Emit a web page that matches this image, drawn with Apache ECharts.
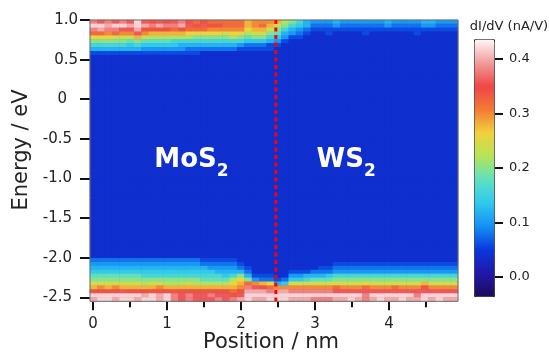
<!DOCTYPE html>
<html><head><meta charset="utf-8">
<script src="https://cdn.jsdelivr.net/npm/echarts@6/dist/echarts.min.js"></script>
<style>html,body{margin:0;padding:0;background:#fff}#c{width:549px;height:355px}</style>
</head><body><div id="c"></div>
<script>
// ---- data ----
const positionRange = [-0.04, 4.93];   // nm, plot extent
const energyRange = [-2.55, 1.0];      // eV, plot extent
// intensity level code: value = levelBase + levelStep * index
const levelCodes = '0123456789abcdefghijklm';
const levelBase = -0.02;
const levelStep = 0.02;
// dI/dV map, one string per energy row (top = 1.0 eV ... bottom = -2.55 eV), one char per position column (50)
const didvRows = [
// top: conduction band region (rows 70..62)
"kjkjkjmjij"+"ijkihihhhh"+"hfgggfcb97"+"6667666666"+"7666677666",
"mmlmmlmlkl"+"kkljijiihh"+"hfghfdb987"+"5556555555"+"6555566555",
"klkkjjliii"+"ihihhhgggg"+"geffdb9765"+"4444444444"+"4444444444",
"hhghggjgff"+"fffeeeeede"+"ecddba7654"+"3343333433"+"3333433333",
"eeedddfdcc"+"ccccbbbbbc"+"babb986443"+"3333333333"+"3333333333",
"bbbbbabaaa"+"a999999999"+"9888764333"+"3333333333"+"3333333333",
"9999989888"+"8877777777"+"6555443333"+"3333333333"+"3333333333",
"7777777666"+"6665555555"+"4444433333"+"3333333333"+"3333333333",
"4444444444"+"4444433333"+"3333333333"+"3333333333"+"3333333333",
// gap region (rows 61..11)
"33333333333333333333333333333333333333333333333333",
"33333333333333333333333333333333333333333333333333",
"33333333333333333333333333333333333333333333333333",
"33333333333333333333333333333333333333333333333333",
"33333333333333333333333333333333333333333333333333",
"33333333333333333333333333333333333333333333333333",
"33333333333333333333333333333333333333333333333333",
"33333333333333333333333333333333333333333333333333",
"33333333333333333333333333333333333333333333333333",
"33333333333333333333333333333333333333333333333333",
"33333333333333333333333333333333333333333333333333",
"33333333333333333333333333333333333333333333333333",
"33333333333333333333333333333333333333333333333333",
"33333333333333333333333333333333333333333333333333",
"33333333333333333333333333333333333333333333333333",
"33333333333333333333333333333333333333333333333333",
"33333333333333333333333333333333333333333333333333",
"33333333333333333333333333333333333333333333333333",
"33333333333333333333333333333333333333333333333333",
"33333333333333333333333333333333333333333333333333",
"33333333333333333333333333333333333333333333333333",
"33333333333333333333333333333333333333333333333333",
"33333333333333333333333333333333333333333333333333",
"33333333333333333333333333333333333333333333333333",
"33333333333333333333333333333333333333333333333333",
"33333333333333333333333333333333333333333333333333",
"33333333333333333333333333333333333333333333333333",
"33333333333333333333333333333333333333333333333333",
"33333333333333333333333333333333333333333333333333",
"33333333333333333333333333333333333333333333333333",
"33333333333333333333333333333333333333333333333333",
"33333333333333333333333333333333333333333333333333",
"33333333333333333333333333333333333333333333333333",
"33333333333333333333333333333333333333333333333333",
"33333333333333333333333333333333333333333333333333",
"33333333333333333333333333333333333333333333333333",
"33333333333333333333333333333333333333333333333333",
"33333333333333333333333333333333333333333333333333",
"33333333333333333333333333333333333333333333333333",
"33333333333333333333333333333333333333333333333333",
"33333333333333333333333333333333333333333333333333",
"33333333333333333333333333333333333333333333333333",
"33333333333333333333333333333333333333333333333333",
"33333333333333333333333333333333333333333333333333",
"33333333333333333333333333333333333333333333333333",
"33333333333333333333333333333333333333333333333333",
"33333333333333333333333333333333333333333333333333",
"33333333333333333333333333333333333333333333333333",
"33333333333333333333333333333333333333333333333333",
"33333333333333333333333333333333333333333333333333",
"33333333333333333333333333333333333333333333333333",
"33333333333333333333333333333333333333333333333333",
// bottom: valence band region (rows 10..0)
"5555555555"+"5555544444"+"3333333333"+"3333333333"+"3333333333",
"6666666666"+"6666655555"+"4333333333"+"3334444444"+"4444444444",
"7777777777"+"7777776666"+"5433333333"+"3445555555"+"5555555555",
"8888888888"+"8888888777"+"7533333444"+"5556666666"+"6666666666",
"aaaaaaa999"+"9999999989"+"b744433667"+"7789999999"+"9999999999",
"bbbbbbbbbb"+"bbbbbaaaac"+"eb65545889"+"aaabbbbbbb"+"bbbbbbbbbb",
"dddddddcdd"+"cccdccccce"+"fhgfe78ddd"+"dddddddedd"+"dddddfdddd",
"fgfgfffffg"+"ffffffffff"+"gkjihggggg"+"ggghggghgg"+"ghgggigggg",
"iiiijiiiii"+"iiiiiiiiih"+"illlkllkkk"+"kkkjjjjjjj"+"jjjjjjjjjj",
"mmmmmmmlml"+"mkjkjjkjji"+"jmmmmmmmmm"+"mmmmmmmkmm"+"mmmmkmmmmm",
"lmmlmmlmml"+"mkjkjjjkjk"+"lmllmmmlll"+"kkkllmlklm"+"llmllmlmll"
];
const xTicks = [0, 1, 2, 3, 4];
const xMinorTicks = [0.5, 1.5, 2.5, 3.5, 4.5];
const yTicks = [-2.5, -2.0, -1.5, -1.0, -0.5, 0, 0.5, 1.0];
const colorbarRange = [-0.035, 0.436];
const colorbarTicks = [0, 0.1, 0.2, 0.3, 0.4];
const dividerX = 2.47;
const labelNames = ['MoS', 'WS'];
const labelSubs = ['2', '2'];
const labelX = [1.33, 3.42];
const labelY = [-0.77, -0.77];

// ---- styles ----
const colorStops = ['#1c0a5e','#2018a8','#0a36dc','#1590f5','#2fc8ee','#5ee0c0',
                    '#b4e45a','#f2d23c','#f47a36','#ee4646','#f29a9a','#fff6f6'];
const FONT = 'DejaVu Sans';
const plotBg = '#0e32d2';

const nRows = didvRows.length;
const nCols = didvRows[0].length;
const heatData = [];
didvRows.forEach((row, ri) => {
  for (let c = 0; c < nCols; c++) {
    heatData.push([c, nRows - 1 - ri, levelBase + levelStep * levelCodes.indexOf(row[c])]);
  }
});
const colCats = Array.from({length: nCols}, (_, i) => String(i));
const rowCats = Array.from({length: nRows}, (_, i) => String(i));

const chart = echarts.init(document.getElementById('c'));
const tickStyle = {color: '#111', width: 2};
const plotRect = {left: 90, top: 20, width: 368, height: 281.3};
chart.setOption({
  animation: false,
  grid: [
    Object.assign({show: true, borderWidth: 0, backgroundColor: plotBg, z: 0}, plotRect),
    {left: 474, top: 39.3, width: 20, height: 256.7, show: false},
    Object.assign({show: true, borderColor: '#6e6e6e', borderWidth: 1, backgroundColor: 'transparent', z: 4}, plotRect)
  ],
  xAxis: [
    {type: 'category', gridIndex: 0, data: colCats, show: false, position: 'top'},
    {type: 'value', gridIndex: 0, min: positionRange[0], max: positionRange[1], position: 'bottom',
     axisLine: {show: false, onZero: false}, splitLine: {show: false},
     axisTick: {show: true, length: 9, lineStyle: tickStyle, customValues: xTicks},
     axisLabel: {customValues: xTicks, margin: 15, fontSize: 15, fontFamily: FONT, color: '#222', formatter: v => String(v)}},
    {type: 'value', gridIndex: 0, min: positionRange[0], max: positionRange[1], position: 'bottom',
     axisLine: {show: false, onZero: false}, splitLine: {show: false},
     axisTick: {show: true, length: 6, lineStyle: tickStyle, customValues: xMinorTicks},
     axisLabel: {show: false}},
    {type: 'value', gridIndex: 1, min: 0, max: 1, show: false}
  ],
  yAxis: [
    {type: 'category', gridIndex: 0, data: rowCats, show: false, position: 'right'},
    {type: 'value', gridIndex: 0, min: energyRange[0], max: energyRange[1], position: 'left',
     axisLine: {show: false, onZero: false}, splitLine: {show: false},
     axisTick: {show: true, length: 10, lineStyle: tickStyle, customValues: yTicks},
     axisLabel: {customValues: yTicks, margin: 12, color: '#222',
       formatter: v => v === 0 ? '{z|0}' : (v < 0 ? '{n|' + v.toFixed(1) + '}' : '{p|' + v.toFixed(1) + '}'),
       rich: {
         p: {fontSize: 15, fontFamily: FONT, color: '#222'},
         n: {fontSize: 15, fontFamily: FONT, color: '#222', padding: [0, 6, 0, 0]},
         z: {fontSize: 15, fontFamily: FONT, color: '#222', padding: [0, 11, 0, 0]}
       }}},
    {type: 'value', gridIndex: 1, min: colorbarRange[0], max: colorbarRange[1], position: 'right',
     axisLine: {show: false, onZero: false}, splitLine: {show: false},
     axisTick: {show: true, length: 9, lineStyle: tickStyle, customValues: colorbarTicks},
     axisLabel: {customValues: colorbarTicks, margin: 15, fontSize: 13, fontFamily: FONT, color: '#222',
       formatter: v => v.toFixed(1)}}
  ],
  visualMap: {
    type: 'continuous', min: colorbarRange[0], max: colorbarRange[1], seriesIndex: 0, dimension: 2,
    left: 474, top: 39.3, itemWidth: 20, itemHeight: 256.7, calculable: false, hoverLink: false,
    padding: 0, borderColor: '#222', borderWidth: 1, inRange: {color: colorStops}
  },
  graphic: [
    {type: 'text', x: 22, y: 150, rotation: Math.PI / 2,
     style: {text: 'Energy / eV', font: '21px "DejaVu Sans"', fill: '#222', align: 'center', verticalAlign: 'middle'}},
    {type: 'text', x: 271, y: 343,
     style: {text: 'Position / nm', font: '21px "DejaVu Sans"', fill: '#222', align: 'center', verticalAlign: 'middle'}},
    {type: 'text', x: 509, y: 27,
     style: {text: 'dI/dV (nA/V)', font: '13px "DejaVu Sans"', fill: '#222', align: 'center', verticalAlign: 'middle'}}
  ],
  series: [
    {type: 'heatmap', xAxisIndex: 0, yAxisIndex: 0, data: heatData, silent: true, progressive: 0, z: 2},
    {type: 'line', xAxisIndex: 1, yAxisIndex: 1, silent: true, symbol: 'none', z: 5,
     data: [[dividerX, energyRange[1]], [dividerX, energyRange[0]]],
     lineStyle: {color: '#ff0000', width: 3, type: [4, 3.5], cap: 'butt'}},
    {type: 'scatter', xAxisIndex: 1, yAxisIndex: 1, silent: true, symbolSize: 0, z: 6,
     itemStyle: {opacity: 1},
     data: labelX.map((x, i) => ({value: [x, labelY[i]], name: labelNames[i], sub: labelSubs[i]})),
     label: {show: true, position: 'inside', opacity: 1,
       formatter: p => '{a|' + p.name + '}{b|' + p.data.sub + '}',
       rich: {
         a: {fontSize: 26, fontWeight: 'bold', fontFamily: FONT, color: '#ffffff', lineHeight: 40},
         b: {fontSize: 17, fontWeight: 'bold', fontFamily: FONT, color: '#ffffff', lineHeight: 17, verticalAlign: 'bottom'}
       }}}
  ]
});
</script></body></html>
